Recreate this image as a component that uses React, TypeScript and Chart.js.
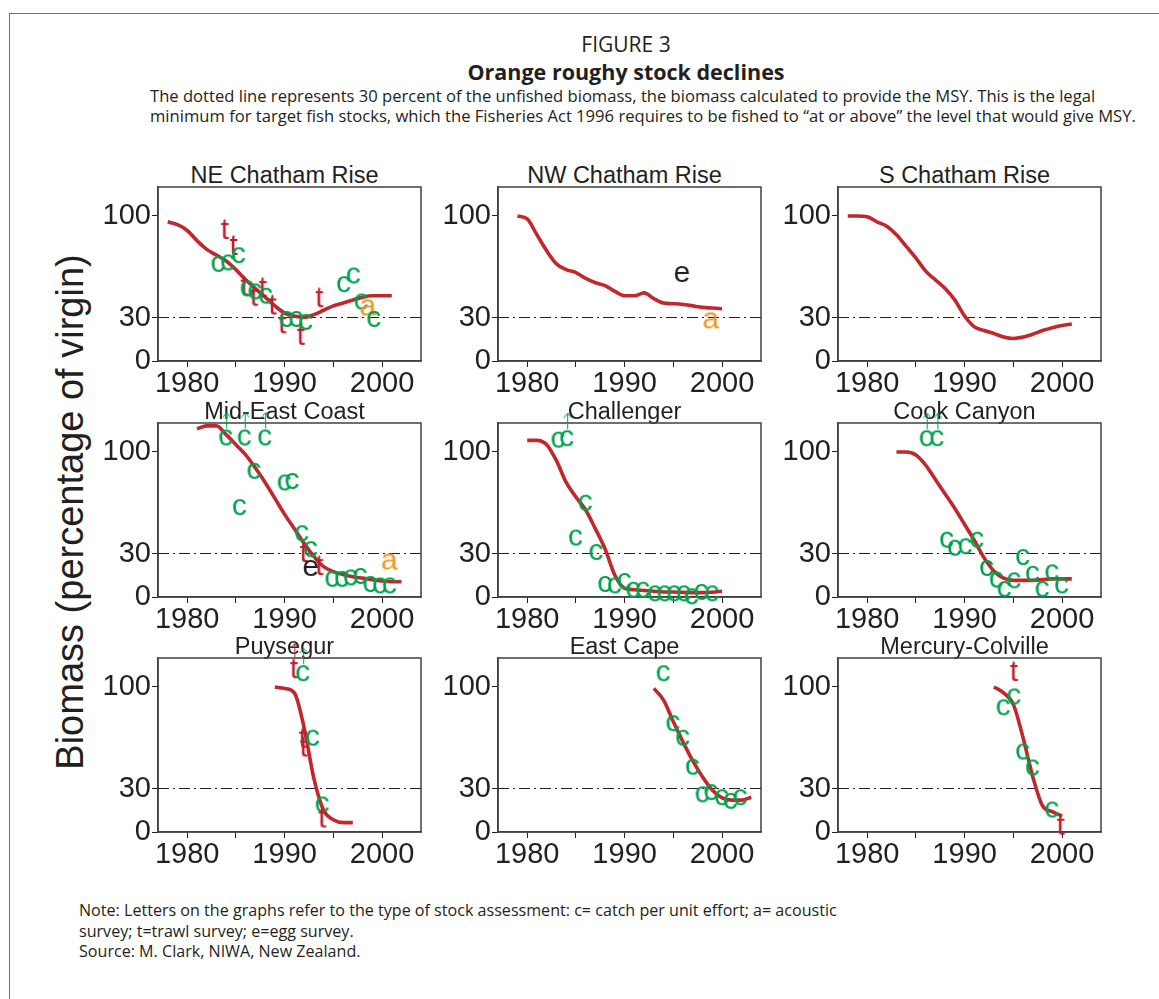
import React, { useEffect, useRef } from 'react';
import { Chart, registerables } from 'chart.js';
Chart.register(...registerables);

const FONT = '"Liberation Sans", Arial, sans-serif';
const TEXT_FONT = '"Open Sans", "Noto Sans", sans-serif';
const INK = '#231f20';

// Axis setup
const X_MIN = 1977;
const X_MAX = 2004;
const Y_MIN = 0;
const Y_MAX = 120;
const X_TICKS = [1980, 1985, 1990, 1995, 2000];
const Y_TICKS = [0, 30, 100];
const MSY_LEVEL = 30;

// Mark codes: c = catch per unit effort, t = trawl survey, a = acoustic, e = egg survey,
// C / T = same letter with an "above the scale" arrow
type Mark = [string, number, number];

// NE Chatham Rise
const NE_YEARS = [1978, 1979, 1980, 1981, 1982, 1983, 1984, 1985, 1986, 1987, 1988, 1989, 1990, 1991, 1992, 1993, 1994, 1995, 1996, 1997, 1998, 1999, 2000, 2001];
const NE_BIOMASS = [96, 94, 90, 83, 77, 73, 69, 63, 56, 50, 44, 38, 33, 31, 30, 32, 35, 38, 40, 42, 44, 45, 45, 45];
const NE_MARKS: Mark[] = [
  ['t', 1983.9, 91], ['t', 1984.8, 80], ['c', 1985.3, 73], ['c', 1983.2, 67], ['c', 1984.2, 68],
  ['t', 1985.9, 52], ['c', 1986.2, 50], ['t', 1986.9, 45], ['c', 1987.0, 48], ['t', 1987.8, 51],
  ['c', 1988.1, 45], ['t', 1988.8, 39], ['t', 1989.8, 26], ['c', 1990.2, 29], ['c', 1991.2, 29],
  ['t', 1991.7, 18], ['c', 1992.2, 27], ['t', 1993.6, 44], ['c', 1996.1, 53], ['c', 1997.1, 59],
  ['c', 1997.9, 41], ['a', 1998.6, 37], ['c', 1999.2, 29],
];

// NW Chatham Rise
const NW_YEARS = [1979, 1980, 1981, 1982, 1983, 1984, 1985, 1986, 1987, 1988, 1989, 1990, 1991, 1992, 1993, 1994, 1995, 1996, 1997, 1998, 1999, 2000];
const NW_BIOMASS = [100, 98, 87, 76, 67, 63, 61, 57, 54, 52, 48, 45, 45, 47, 43, 40, 39.5, 39, 38, 37, 36.5, 36];
const NW_MARKS: Mark[] = [['e', 1995.9, 60], ['a', 1998.9, 28]];

// S Chatham Rise
const S_YEARS = [1978, 1979, 1980, 1981, 1982, 1983, 1984, 1985, 1986, 1987, 1988, 1989, 1990, 1991, 1992, 1993, 1994, 1995, 1996, 1997, 1998, 1999, 2000, 2001];
const S_BIOMASS = [100, 100, 99.5, 96, 93, 87, 79, 71, 62, 56, 50, 42, 31, 23.5, 21, 19, 16.5, 15.5, 16.5, 18.5, 21, 23, 24.5, 25.5];
const S_MARKS: Mark[] = [];

// Mid-East Coast
const MEC_YEARS = [1981, 1982, 1983, 1984, 1985, 1986, 1987, 1988, 1989, 1990, 1991, 1992, 1993, 1994, 1995, 1996, 1997, 1998, 1999, 2000, 2001, 2002];
const MEC_BIOMASS = [116, 118, 118, 112, 105, 98, 89, 79, 68, 57, 47, 37, 28, 21, 17.5, 15.5, 14, 13, 12, 11, 10.5, 10.5];
const MEC_MARKS: Mark[] = [
  ['C', 1984.0, 110], ['C', 1985.9, 110], ['C', 1988.0, 110], ['c', 1986.9, 87], ['c', 1990.0, 79],
  ['c', 1990.8, 80], ['c', 1985.4, 62], ['c', 1991.8, 44], ['c', 1992.7, 33], ['t', 1992.0, 31],
  ['t', 1993.6, 22], ['e', 1992.7, 20], ['c', 1994.9, 12.5], ['c', 1995.9, 12.5], ['c', 1996.8, 13.5],
  ['c', 1997.8, 14.5], ['c', 1998.8, 9], ['c', 1999.8, 8], ['c', 2000.8, 8], ['a', 2000.8, 24.5],
];

// Challenger
const CH_YEARS = [1980, 1981, 1982, 1983, 1984, 1985, 1986, 1987, 1988, 1989, 1990, 1991, 1992, 1993, 1994, 1995, 1996, 1997, 1998, 1999, 2000];
const CH_BIOMASS = [108, 108, 105, 94, 79, 69, 60, 47, 33, 15, 6, 5, 4.5, 4, 3.5, 3.4, 3.2, 3, 3, 3.3, 4];
const CH_MARKS: Mark[] = [
  ['c', 1983.2, 108.5], ['C', 1984.1, 109.5], ['c', 1986.0, 65], ['c', 1985.0, 41], ['c', 1987.1, 31],
  ['c', 1988.0, 9], ['c', 1989.0, 8], ['c', 1990.0, 11], ['c', 1990.9, 5], ['c', 1991.9, 5],
  ['c', 1993.1, 2.5], ['c', 1994.1, 2.5], ['c', 1995.1, 2.5], ['c', 1996.1, 2.5], ['c', 1996.9, 0.5],
  ['c', 1997.9, 3.5], ['c', 1999.0, 2.5],
];

// Cook Canyon
const CC_YEARS = [1983, 1984, 1985, 1986, 1987, 1988, 1989, 1990, 1991, 1992, 1993, 1994, 1995, 1996, 1997, 1998, 1999, 2000, 2001];
const CC_BIOMASS = [100, 100, 98, 91, 81, 71, 61, 50, 39, 27, 18, 13, 11.5, 11.5, 11.5, 12, 12.5, 12.5, 12.5];
const CC_MARKS: Mark[] = [
  ['C', 1986.1, 109.5], ['C', 1987.2, 109.5], ['c', 1988.2, 39.5], ['c', 1989.0, 34], ['c', 1990.1, 35],
  ['c', 1991.3, 39.5], ['c', 1992.3, 20], ['c', 1993.3, 12], ['c', 1994.1, 5.5], ['c', 1995.1, 11.5],
  ['c', 1996.0, 27.5], ['c', 1997.0, 16], ['c', 1998.0, 5.5], ['c', 1999.0, 17], ['c', 2000.0, 8],
];

// Puysegur
const PU_YEARS = [1989, 1990, 1991, 1992, 1993, 1994, 1995, 1996, 1997];
const PU_BIOMASS = [100, 99, 96, 72, 37, 15, 8.5, 6.5, 6.5];
const PU_MARKS: Mark[] = [
  ['T', 1991.0, 113], ['C', 1991.9, 109.5], ['t', 1991.9, 65], ['t', 1992.0, 59], ['c', 1992.9, 65],
  ['c', 1993.9, 19], ['t', 1993.9, 10],
];

// East Cape
const EC_YEARS = [1993, 1994, 1995, 1996, 1997, 1998, 1999, 2000, 2001, 2002, 2003];
const EC_BIOMASS = [99, 91, 76, 62, 49, 38, 29, 23.5, 22, 22, 24];
const EC_MARKS: Mark[] = [
  ['c', 1994.0, 109.5], ['c', 1995.0, 75], ['c', 1996.0, 65], ['c', 1997.0, 45], ['c', 1998.0, 26],
  ['c', 1998.9, 27.5], ['c', 2000.0, 24], ['c', 2000.9, 21.5], ['c', 2001.9, 24],
];

// Mercury-Colville
const MC_YEARS = [1993, 1994, 1995, 1996, 1997, 1998, 1999, 2000];
const MC_BIOMASS = [100, 96, 88, 65, 38, 18, 14, 11];
const MC_MARKS: Mark[] = [
  ['t', 1995.1, 111], ['c', 1995.1, 93.5], ['c', 1994.0, 86], ['c', 1996.0, 55.5], ['c', 1997.0, 44.5],
  ['c', 1999.0, 15.5], ['t', 1999.9, 5],
];

const TITLES = ['NE Chatham Rise', 'NW Chatham Rise', 'S Chatham Rise', 'Mid-East Coast', 'Challenger', 'Cook Canyon', 'Puysegur', 'East Cape', 'Mercury-Colville'];
const SERIES_YEARS = [NE_YEARS, NW_YEARS, S_YEARS, MEC_YEARS, CH_YEARS, CC_YEARS, PU_YEARS, EC_YEARS, MC_YEARS];
const SERIES_BIOMASS = [NE_BIOMASS, NW_BIOMASS, S_BIOMASS, MEC_BIOMASS, CH_BIOMASS, CC_BIOMASS, PU_BIOMASS, EC_BIOMASS, MC_BIOMASS];
const SERIES_MARKS = [NE_MARKS, NW_MARKS, S_MARKS, MEC_MARKS, CH_MARKS, CC_MARKS, PU_MARKS, EC_MARKS, MC_MARKS];

// Layout
const COL_LEFT = [158, 498, 838];
const ROW_TOP = [187, 423, 658];
const PLOT_W = 263;
const PLOT_H = 174;
const AXIS_W = 75;
const AXIS_H = 44;
const PAD_TOP = 30;
const PAD_RIGHT = 10;

const LINE_COLOR = '#c1272d';
const LETTER_COLORS: Record<string, string> = { c: '#00a14b', t: '#be1e2d', a: '#f7941d', e: INK };

const glyphCache: Record<string, HTMLCanvasElement> = {};
function glyph(code: string): HTMLCanvasElement {
  if (glyphCache[code]) return glyphCache[code];
  const letter = code.toLowerCase();
  const arrow = code !== letter;
  const color = LETTER_COLORS[letter];
  const w = 40;
  const h = arrow ? 66 : 48;
  const cv = document.createElement('canvas');
  cv.width = w;
  cv.height = h;
  const ctx = cv.getContext('2d')!;
  ctx.font = `30px ${FONT}`;
  ctx.textAlign = 'left';
  ctx.textBaseline = 'alphabetic';
  const m = ctx.measureText(letter);
  const asc = m.actualBoundingBoxAscent;
  const desc = m.actualBoundingBoxDescent;
  const cx = w / 2;
  const cy = h / 2;
  const x = cx - (m.actualBoundingBoxRight - m.actualBoundingBoxLeft) / 2;
  const y = cy + (asc - desc) / 2;
  ctx.fillStyle = color;
  ctx.fillText(letter, x, y);
  if (arrow) {
    const top = cy - (asc + desc) / 2;
    ctx.strokeStyle = color;
    ctx.lineWidth = 1;
    ctx.beginPath();
    ctx.moveTo(cx + 0.5, top - 1);
    ctx.lineTo(cx + 0.5, cy - 25);
    ctx.moveTo(cx - 3.5, cy - 20);
    ctx.lineTo(cx + 0.5, cy - 25);
    ctx.lineTo(cx + 4.5, cy - 20);
    ctx.stroke();
  }
  glyphCache[code] = cv;
  return cv;
}

const framePlugin = {
  id: 'plotFrame',
  beforeDatasetsDraw(chart: any) {
    const { ctx, chartArea: a } = chart;
    ctx.save();
    ctx.strokeStyle = '#404040';
    ctx.lineWidth = 1.5;
    ctx.strokeRect(a.left, a.top, a.right - a.left, a.bottom - a.top);
    ctx.restore();
  },
};

function Panel({ index }: { index: number }) {
  const ref = useRef<HTMLCanvasElement>(null);
  const col = index % 3;
  const row = Math.floor(index / 3);
  const left = COL_LEFT[col];
  const top = ROW_TOP[row];
  const cw = AXIS_W + PLOT_W + PAD_RIGHT;
  const ch = PAD_TOP + PLOT_H + AXIS_H;

  useEffect(() => {
    const years = SERIES_YEARS[index];
    const biomass = SERIES_BIOMASS[index];
    const marks = SERIES_MARKS[index];
    const chart = new Chart(ref.current!, {
      type: 'scatter',
      data: {
        datasets: [
          {
            data: marks.map((m) => ({ x: m[1], y: m[2] })),
            pointStyle: marks.map((m) => glyph(m[0])) as any,
            pointRadius: 3,
            showLine: false,
            clip: false as any,
            order: 0,
          },
          {
            data: years.map((yr, i) => ({ x: yr, y: biomass[i] })),
            showLine: true,
            borderColor: LINE_COLOR,
            borderWidth: 3.6,
            pointRadius: 0,
            cubicInterpolationMode: 'monotone',
            borderCapStyle: 'butt',
            borderJoinStyle: 'round',
            order: 1,
          },
          {
            data: [{ x: X_MIN, y: MSY_LEVEL }, { x: X_MAX, y: MSY_LEVEL }],
            showLine: true,
            borderColor: INK,
            borderWidth: 1.2,
            borderDash: [11, 4, 2, 4],
            pointRadius: 0,
            order: 2,
          },
        ] as any,
      },
      options: {
        responsive: false,
        animation: false,
        devicePixelRatio: 1,
        events: [],
        layout: { padding: { top: PAD_TOP, right: PAD_RIGHT, left: 0, bottom: 0 } },
        plugins: { legend: { display: false }, tooltip: { enabled: false }, title: { display: false } },
        scales: {
          x: {
            type: 'linear',
            min: X_MIN,
            max: X_MAX,
            afterBuildTicks: (s: any) => { s.ticks = X_TICKS.map((v) => ({ value: v })); },
            afterFit: (s: any) => { s.height = AXIS_H; },
            ticks: {
              autoSkip: false,
              maxRotation: 0,
              padding: 0,
              color: INK,
              font: { family: FONT, size: 29 },
              callback: (v: any) => (Number(v) % 10 === 0 ? String(v) : ''),
            },
            grid: { drawOnChartArea: false, drawTicks: true, tickLength: 6, color: INK, lineWidth: 1 },
            border: { display: true, color: '#404040', width: 1.5 },
          },
          y: {
            type: 'linear',
            min: Y_MIN,
            max: Y_MAX,
            afterBuildTicks: (s: any) => { s.ticks = Y_TICKS.map((v) => ({ value: v })); },
            afterFit: (s: any) => { s.width = AXIS_W; },
            ticks: {
              autoSkip: false,
              padding: 1,
              color: INK,
              font: { family: FONT, size: 29 },
              callback: (v: any) => String(v),
            },
            grid: { drawOnChartArea: false, drawTicks: true, tickLength: 6, color: INK, lineWidth: 1 },
            border: { display: true, color: '#404040', width: 1.5 },
          },
        },
      } as any,
      plugins: [framePlugin],
    });
    return () => chart.destroy();
  }, [index]);

  return (
    <>
      <div
        style={{
          position: 'absolute',
          left: left + PLOT_W / 2 - 5 - 150,
          width: 300,
          top: top - 25,
          height: 26,
          lineHeight: '26px',
          textAlign: 'center',
          fontFamily: FONT,
          fontSize: 23.5,
          color: INK,
          whiteSpace: 'nowrap',
        }}
      >
        {TITLES[index]}
      </div>
      <canvas
        ref={ref}
        width={cw}
        height={ch}
        style={{ position: 'absolute', left: left - AXIS_W, top: top - PAD_TOP, width: cw, height: ch }}
      />
    </>
  );
}

export default function App() {
  const headText: React.CSSProperties = { position: 'absolute', fontFamily: TEXT_FONT, color: INK, whiteSpace: 'nowrap' };
  return (
    <div style={{ position: 'absolute', left: 0, top: 0, width: 1159, height: 999, overflow: 'hidden', background: '#fff' }}>
      <div style={{ position: 'absolute', left: 9, top: 13, width: 1300, height: 1200, borderLeft: '1.5px solid #707070', borderTop: '1.5px solid #707070' }} />
      <div style={{ ...headText, left: 426, width: 400, top: 31, lineHeight: '26px', fontSize: 21, textAlign: 'center' }}>FIGURE 3</div>
      <div style={{ ...headText, left: 426, width: 400, top: 59, lineHeight: '26px', fontSize: 21.5, fontWeight: 700, textAlign: 'center' }}>Orange roughy stock declines</div>
      <div style={{ ...headText, left: 150, top: 85, lineHeight: '21px', fontSize: 16.6 }}>
        The dotted line represents 30 percent of the unfished biomass, the biomass calculated to provide the MSY. This is the legal
      </div>
      <div style={{ ...headText, left: 150, top: 105, lineHeight: '21px', fontSize: 16.6 }}>
        minimum for target fish stocks, which the Fisheries Act 1996 requires to be fished to “at or above” the level that would give MSY.
      </div>
      <div
        style={{
          position: 'absolute',
          left: 70 - 300,
          top: 512 - 22,
          width: 600,
          height: 44,
          lineHeight: '44px',
          textAlign: 'center',
          fontFamily: FONT,
          fontSize: 38,
          color: INK,
          transform: 'rotate(-90deg)',
          whiteSpace: 'nowrap',
        }}
      >
        Biomass (percentage of virgin)
      </div>
      {TITLES.map((_, i) => (
        <Panel key={i} index={i} />
      ))}
      <div style={{ ...headText, left: 79, top: 900, lineHeight: '21px', fontSize: 16.1 }}>
        Note: Letters on the graphs refer to the type of stock assessment: c= catch per unit effort; a= acoustic
      </div>
      <div style={{ ...headText, left: 79, top: 920.5, lineHeight: '21px', fontSize: 16.1 }}>
        survey; t=trawl survey; e=egg survey.
      </div>
      <div style={{ ...headText, left: 79, top: 941, lineHeight: '21px', fontSize: 16.1 }}>
        Source: M. Clark, NIWA, New Zealand.
      </div>
    </div>
  );
}
